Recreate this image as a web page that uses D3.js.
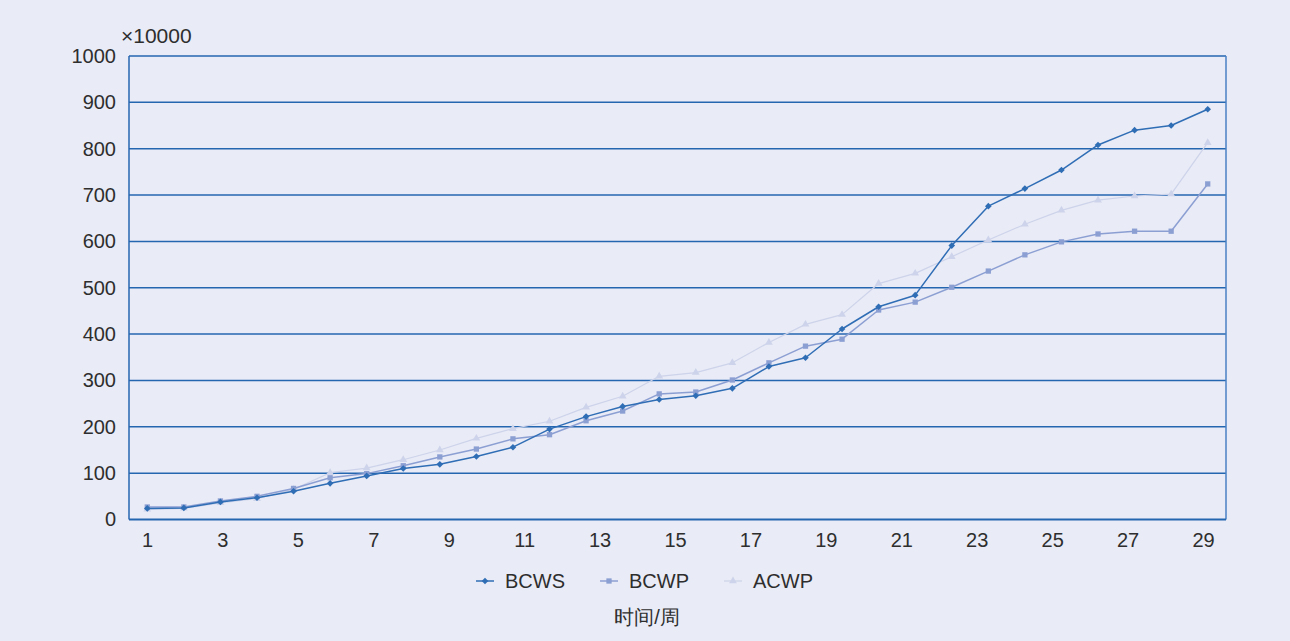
<!DOCTYPE html>
<html>
<head>
<meta charset="utf-8">
<script src="https://cdn.jsdelivr.net/npm/d3@7/dist/d3.min.js"></script>
<style>
  html, body { margin: 0; padding: 0; background: #e9ebf6; }
  svg { display: block; }
  text { font-family: "Liberation Sans", Arial, sans-serif; fill: #2e2e2e; }
</style>
</head>
<body>
<svg id="chart" width="1290" height="641"></svg>
<script>
// Weekly cumulative cost values (unit: ×10000)
const weeks = d3.range(1, 31);
const bcws = [24, 25, 38, 47, 61, 78, 94, 110, 119, 136, 156, 195, 222, 244, 259, 267,
              283, 330, 349, 411, 459, 484, 591, 676, 714, 754, 808, 840, 850, 885];
const bcwp = [27, 27, 40, 50, 67, 90, 99, 116, 135, 152, 174, 183, 213, 234, 271, 275,
              301, 338, 374, 389, 452, 469, 501, 536, 571, 599, 616, 622, 622, 724];
const acwp = [22, 24, 36, 45, 65, 101, 111, 129, 150, 175, 196, 212, 242, 266, 309, 317,
              338, 382, 421, 442, 509, 531, 567, 603, 637, 667, 689, 698, 702, 813];
const xTickLabels = [1, 3, 5, 7, 9, 11, 13, 15, 17, 19, 21, 23, 25, 27, 29];
const yTickValues = [0, 100, 200, 300, 400, 500, 600, 700, 800, 900, 1000];

const seriesList = [
  { name: "BCWS", values: bcws, color: "#2f6db5", width: 1.5, symbol: d3.symbolDiamond2, size: 28 },
  { name: "BCWP", values: bcwp, color: "#8c9fd3", width: 1.5, symbol: d3.symbolSquare, size: 28 },
  { name: "ACWP", values: acwp, color: "#cdd3ea", width: 1.2, symbol: d3.symbolTriangle, size: 26 }
];

const svg = d3.select("#chart");
const plot = { left: 129, right: 1226, top: 56, bottom: 519.5 };
const gridColor = "#2566b0";

// Data points sit in the centre of 30 equal slots across the plot
const x = d3.scalePoint().domain(weeks).range([plot.left, plot.right]).padding(0.5);
// Week labels along the bottom
const xLabel = d3.scaleLinear().domain([1, 29]).range([147, 1203]);
const y = d3.scaleLinear().domain([0, 1000]).range([plot.bottom, plot.top]);

// Horizontal grid lines
svg.append("g")
  .selectAll("line")
  .data(yTickValues.slice(1))
  .join("line")
  .attr("x1", plot.left).attr("x2", plot.right)
  .attr("y1", d => y(d)).attr("y2", d => y(d))
  .attr("stroke", gridColor).attr("stroke-width", 1.5);

// Frame: left, right and bottom edges
const frame = svg.append("g").attr("stroke", gridColor).attr("stroke-width", 1.5).attr("fill", "none");
frame.append("line").attr("x1", plot.left).attr("x2", plot.left).attr("y1", plot.top).attr("y2", plot.bottom);
frame.append("line").attr("x1", plot.right).attr("x2", plot.right).attr("y1", plot.top).attr("y2", plot.bottom).attr("stroke", "#4a82c4");
frame.append("line").attr("x1", plot.left).attr("x2", plot.right).attr("y1", plot.bottom).attr("y2", plot.bottom).attr("stroke-width", 2);

// Y axis labels
const yAxis = d3.axisLeft(y).tickValues(yTickValues).tickSize(0).tickPadding(13).tickFormat(d3.format("d"));
const gy = svg.append("g").attr("transform", `translate(${plot.left},0)`).call(yAxis);
gy.select(".domain").remove();
gy.selectAll("text").attr("font-size", 20).attr("fill", "#2e2e2e")
  .attr("font-family", "Liberation Sans, Arial, sans-serif");

// X axis labels
const xAxis = d3.axisBottom(xLabel).tickValues(xTickLabels).tickSize(0).tickPadding(13).tickFormat(d3.format("d"));
const gx = svg.append("g").attr("transform", `translate(0,${plot.bottom})`).call(xAxis);
gx.select(".domain").remove();
gx.selectAll("text").attr("font-size", 20).attr("fill", "#2e2e2e")
  .attr("font-family", "Liberation Sans, Arial, sans-serif");

// Unit label
svg.append("text").attr("x", 121).attr("y", 43).attr("font-size", 21).text("×10000");

// Series lines and markers (drawn back to front)
const line = d3.line().x((d, i) => x(weeks[i])).y(d => y(d));
[...seriesList].reverse().forEach(s => {
  const g = svg.append("g");
  g.append("path").datum(s.values)
    .attr("d", line).attr("fill", "none")
    .attr("stroke", s.color).attr("stroke-width", s.width).attr("stroke-linejoin", "round");
  g.selectAll("path.m").data(s.values).join("path").attr("class", "m")
    .attr("transform", (d, i) => `translate(${x(weeks[i])},${y(d)})`)
    .attr("d", d3.symbol().type(s.symbol).size(s.size))
    .attr("fill", s.color);
});

// Legend
const legendX = [476, 600, 724];
seriesList.forEach((s, i) => {
  const g = svg.append("g").attr("transform", `translate(${legendX[i]},581)`);
  g.append("line").attr("x1", 0).attr("x2", 18).attr("y1", 0).attr("y2", 0)
    .attr("stroke", s.color).attr("stroke-width", s.width);
  g.append("path").attr("transform", "translate(9,0)")
    .attr("d", d3.symbol().type(s.symbol).size(s.size)).attr("fill", s.color);
  g.append("text").attr("x", 29).attr("y", 0).attr("dy", "0.36em").attr("font-size", 20).text(s.name);
});

// X axis title
svg.append("text").attr("x", 647).attr("y", 624).attr("text-anchor", "middle")
  .attr("font-size", 20).attr("font-family", "Noto Sans CJK SC, sans-serif").text("时间/周");
</script>
</body>
</html>
